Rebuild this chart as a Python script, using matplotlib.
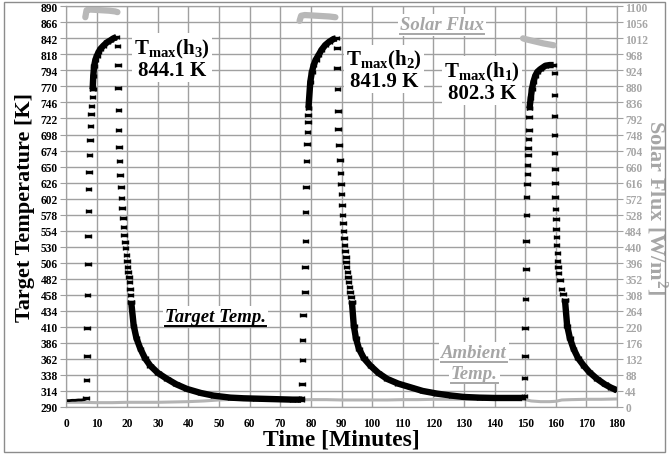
import matplotlib.pyplot as plt
import numpy as np
from matplotlib.patches import Rectangle
from matplotlib.lines import Line2D

plt.rcParams['font.family'] = 'Liberation Serif'
plt.rcParams['font.weight'] = 'bold'
plt.rcParams['axes.labelweight'] = 'bold'
plt.rcParams['mathtext.fontset'] = 'custom'
plt.rcParams['mathtext.rm'] = 'Liberation Serif:bold'
plt.rcParams['mathtext.bf'] = 'Liberation Serif:bold'
plt.rcParams['mathtext.it'] = 'Liberation Serif:bold'

# ---- data (time in minutes, temperature in K) ----
base_t = [0, 1, 2, 3, 4, 5, 6, 6.5]
base_K = [299.5, 299.5, 300, 300, 300.5, 300.5, 301, 302]

# heating cycle 1 (h3)
c1_rise_t = [6.6, 6.7, 6.8, 6.9, 7.0, 7.1, 7.2, 7.3, 7.4, 7.5, 7.6, 7.9, 8.0, 8.2, 8.4, 8.6, 8.8]
c1_rise_K = [304, 330, 366, 408, 458, 504, 546, 584, 617, 642, 667, 690, 711, 729, 741, 754, 766]
c1_peak_t = [8.7, 8.9, 9.2, 9.6, 10.1, 10.6, 11.2, 12.2, 13.4, 14.5, 15.5, 16.5]
c1_peak_K = [766, 786, 801, 810, 816, 821, 826, 831, 836, 839, 842, 844]
c1_fall_t = [16.8, 16.9, 17.0, 17.1, 17.2, 17.3, 17.5, 17.7, 17.9, 18.1, 18.3, 18.6, 18.8,
             19.0, 19.3, 19.5, 19.7, 19.9, 20.1, 20.3, 20.5, 20.7, 20.9, 21.1, 21.3]
c1_fall_K = [831, 802, 767, 735, 705, 680, 658, 637, 619, 603, 588, 573, 560,
             548, 537, 528, 518, 508, 499, 492, 485, 477, 467, 457, 447]
c1_decay_t = [21.3, 22.1, 23.0, 24.3, 25.8, 27.5, 30.0, 33.0, 36.0, 39.5, 44.0, 48.2,
              53.7, 58.0, 62.0, 66.0, 70.0, 74.0, 76.8]
c1_decay_K = [447, 412, 393, 377, 363, 352, 341, 332, 324, 317, 311, 307,
              304, 303, 302.5, 302, 301.5, 301, 301]

# heating cycle 2 (h2)
c2_rise_t = [77.0, 77.1, 77.2, 77.3, 77.4, 78.0, 78.1, 78.2, 78.3, 78.4, 78.5, 78.8, 78.9, 79.0, 79.1, 79.2]
c2_rise_K = [304, 325, 360, 391, 427, 462, 500, 538, 582, 620, 658, 684, 702, 716, 727, 737]
c2_peak_t = [79.2, 79.8, 80.3, 80.9, 81.6, 82.5, 83.5, 84.7, 86.0, 87.4, 88.2]
c2_peak_K = [738, 777, 791, 802, 810, 817, 825, 832, 837, 841, 842]
c2_fall_t = [88.5, 88.6, 88.7, 88.8, 88.9, 89.1, 89.5, 89.7, 89.9, 90.0, 90.1, 90.3, 90.4, 90.6,
             90.8, 91.0, 91.2, 91.4, 91.5, 91.7, 91.9, 92.1, 92.3, 92.6, 92.8, 93.1, 93.4]
c2_fall_K = [828, 798, 766, 733, 706, 682, 660, 640, 624, 609, 593, 578, 566, 554,
             543, 533, 524, 515, 507, 499, 492, 485, 477, 470, 462, 455, 447]
c2_decay_t = [93.4, 94.0, 94.7, 95.7, 97.3, 99.4, 102.0, 104.9, 108.5, 112.5, 116.5, 121.2,
              126.0, 130.0, 135.0, 140.0, 145.0, 149.0]
c2_decay_K = [447, 412, 393, 377, 363, 352, 341, 332, 325, 319.5, 314, 310,
              307, 305, 304, 303.5, 303.5, 303.5]

# heating cycle 3 (h1)
c3_rise_t = [149.7, 149.8, 149.9, 150.0, 150.1, 150.2, 150.3, 150.4, 150.5, 150.6, 150.7, 150.8,
             150.9, 151.0, 151.1, 151.2, 151.3, 151.4]
c3_rise_K = [307, 333, 367, 408, 452, 497, 539, 577, 604, 624, 639, 653, 668, 678, 692, 705, 724, 737]
c3_peak_t = [151.4, 151.8, 152.2, 152.7, 153.3, 154.0, 155.0, 156.6, 158.0, 159.3]
c3_peak_K = [737, 752, 766, 777, 786, 792, 796, 801, 802, 802]
c3_fall_t = [159.5, 159.5, 159.5, 159.6, 159.6, 159.7, 159.7, 159.8, 159.9, 160.0, 160.1,
             160.2, 160.3, 160.5, 160.6, 160.8, 160.9, 161.3, 161.8, 162.4, 163.0]
c3_fall_K = [790, 757, 726, 697, 670, 646, 625, 604, 586, 571, 557,
             545, 532, 520, 508, 500, 490, 480, 467, 459, 450]
c3_decay_t = [163.0, 163.7, 164.6, 165.8, 167.3, 169.1, 171.0, 173.5, 176.0, 178.0, 180.0]
c3_decay_K = [450, 412, 393, 377, 363, 352, 342, 332, 324, 319, 315]

# solar flux [W/m2] during the three heating periods
f1_t = [6.3, 6.7, 7.0, 8.0, 10.0, 12.0, 14.0, 16.0, 16.8]
f1_v = [1070, 1089, 1090, 1091, 1090, 1089, 1088, 1086, 1084]
f2_t = [76.3, 76.8, 78.0, 80.0, 82.0, 84.0, 86.0, 88.0]
f2_v = [1060, 1074, 1076, 1075, 1074, 1073, 1072, 1070]
f3_t = [149.3, 150.0, 152.0, 154.0, 156.0, 158.0, 159.3]
f3_v = [1012, 1010, 1006, 1002, 998, 995, 993]

# ambient temperature [K]
amb_t = [0, 5, 10, 15, 20, 25, 30, 35, 40, 45, 50, 55, 60, 65, 70, 75, 80, 85, 90, 95,
         100, 105, 110, 115, 120, 125, 130, 135, 140, 145, 150, 152, 155, 158, 160, 162,
         165, 170, 175, 180]
amb_K = [297, 297, 296.5, 296.5, 297, 297, 297, 297.5, 298, 299, 300.5, 301.5, 301, 301,
         300.5, 300.5, 301, 301, 300.5, 300.5, 300.5, 300.5, 301, 301, 301.5, 301.5, 301.5,
         301.5, 301.5, 301.5, 301, 299, 298, 298, 298.5, 300.5, 301, 301.5, 301.5, 302]

x_ticks = list(range(0, 181, 10))
yl_ticks = list(range(290, 891, 24))
yr_ticks = list(range(0, 1101, 44))

grey = '#a6a6a6'
grid_c = '#a0a0a0'

fig = plt.figure(figsize=(6.69, 4.56), dpi=100)
ax = fig.add_axes([0.0987, 0.1053, 0.8236, 0.8787])
ax2 = ax.twinx()


def pts(t, K):
    # sparse points: little bar with caps (x error bars)
    ax.errorbar(t, K, xerr=0.9, fmt='none', ecolor='k', elinewidth=2.4,
                capsize=1.7, capthick=1.0, zorder=4)


def dense(t, K):
    ax.plot(t, K, color='k', lw=4.6, solid_capstyle='butt', zorder=4)
    pts(t, K)


ax.plot(amb_t, amb_K, color='#b4b4b4', lw=2.2, zorder=3)
ax.plot(base_t, base_K, color='k', lw=2.0, zorder=4)
for rt, rk, pt_, pk, ft, fk, dt, dk in [
        (c1_rise_t, c1_rise_K, c1_peak_t, c1_peak_K, c1_fall_t, c1_fall_K, c1_decay_t, c1_decay_K),
        (c2_rise_t, c2_rise_K, c2_peak_t, c2_peak_K, c2_fall_t, c2_fall_K, c2_decay_t, c2_decay_K),
        (c3_rise_t, c3_rise_K, c3_peak_t, c3_peak_K, c3_fall_t, c3_fall_K, c3_decay_t, c3_decay_K)]:
    pts(rt, rk)
    dense(pt_, pk)
    pts(ft, fk)
    dense(dt, dk)
ax.plot([c1_decay_t[-1], c2_rise_t[0]], [c1_decay_K[-1], c2_rise_K[0]], color='k', lw=1.5, zorder=4)
ax.plot([c2_decay_t[-1], c3_rise_t[0]], [c2_decay_K[-1], c3_rise_K[0]], color='k', lw=1.5, zorder=4)

for ft, fv in [(f1_t, f1_v), (f2_t, f2_v), (f3_t, f3_v)]:
    ax2.plot(ft, fv, color='#b8b8b8', lw=4.5, solid_capstyle='round')

ax.set_xlim(0, 180)
ax.set_ylim(290, 890)
ax2.set_ylim(0, 1100)
ax.set_xticks(x_ticks)
ax.set_yticks(yl_ticks)
ax2.set_yticks(yr_ticks)
ax.grid(True, color=grid_c, lw=1.0)
ax.set_axisbelow(True)
for a in (ax, ax2):
    for s in a.spines.values():
        s.set_color(grid_c)
ax.tick_params(axis='x', length=0, pad=7, labelsize=8.3)
ax.tick_params(axis='y', length=4, width=0.8, color=grid_c, pad=2, labelsize=8.3)
ax2.tick_params(axis='y', length=4, width=0.8, color=grid_c, pad=2, labelsize=8.3,
                labelcolor=grey)
for lbl in ax.get_xticklabels() + ax.get_yticklabels() + ax2.get_yticklabels():
    lbl.set_fontweight('bold')

ax.set_xlabel('Time [Minutes]', fontsize=17, labelpad=0)
ax.set_ylabel('Target Temperature [K]', fontsize=16, labelpad=4)
ax2.set_ylabel('Solar Flux [W/m$^{2}$]', fontsize=16, color=grey, rotation=270,
               labelpad=15)

box = dict(fc='white', ec='none', pad=1.5)
ax.text(34.6, 812, 'T$_{\\mathrm{max}}$(h$_{3}$)\n844.1 K', fontsize=15, ha='center',
        va='center', linespacing=1.0, bbox=box, zorder=5)
ax.text(103.8, 795, 'T$_{\\mathrm{max}}$(h$_{2}$)\n841.9 K', fontsize=15, ha='center',
        va='center', linespacing=1.0, bbox=box, zorder=5)
ax.text(135.8, 778, 'T$_{\\mathrm{max}}$(h$_{1}$)\n802.3 K', fontsize=15, ha='center',
        va='center', linespacing=1.0, bbox=box, zorder=5)

labels = [
    ax.text(48.7, 425, 'Target Temp.', fontsize=13.5, style='italic', ha='center',
            va='center', bbox=box, zorder=5, color='k'),
    ax.text(122.9, 862, 'Solar Flux', fontsize=13.5, style='italic', ha='center',
            va='center', bbox=box, zorder=5, color=grey),
    ax.text(133.3, 372, 'Ambient', fontsize=13.5, style='italic', ha='center',
            va='center', bbox=box, zorder=5, color=grey),
    ax.text(133.3, 340, 'Temp.', fontsize=13.5, style='italic', ha='center',
            va='center', bbox=box, zorder=5, color=grey),
]

# underline the series labels
fig.canvas.draw()
inv = fig.transFigure.inverted()
for t in labels:
    bb = t.get_window_extent()
    (x0, y0), (x1, _) = inv.transform([(bb.x0, bb.y0 - 1), (bb.x1, bb.y0)])
    fig.add_artist(Line2D([x0, x1], [y0, y0], transform=fig.transFigure,
                          color=t.get_color(), lw=1.4, zorder=6))

fig.patches.append(Rectangle((4 / 669, 3 / 456), 661 / 669, 450 / 456, transform=fig.transFigure,
                             fill=False, ec='#8c8c8c', lw=1.0))

fig.savefig('out.png', dpi=100)
